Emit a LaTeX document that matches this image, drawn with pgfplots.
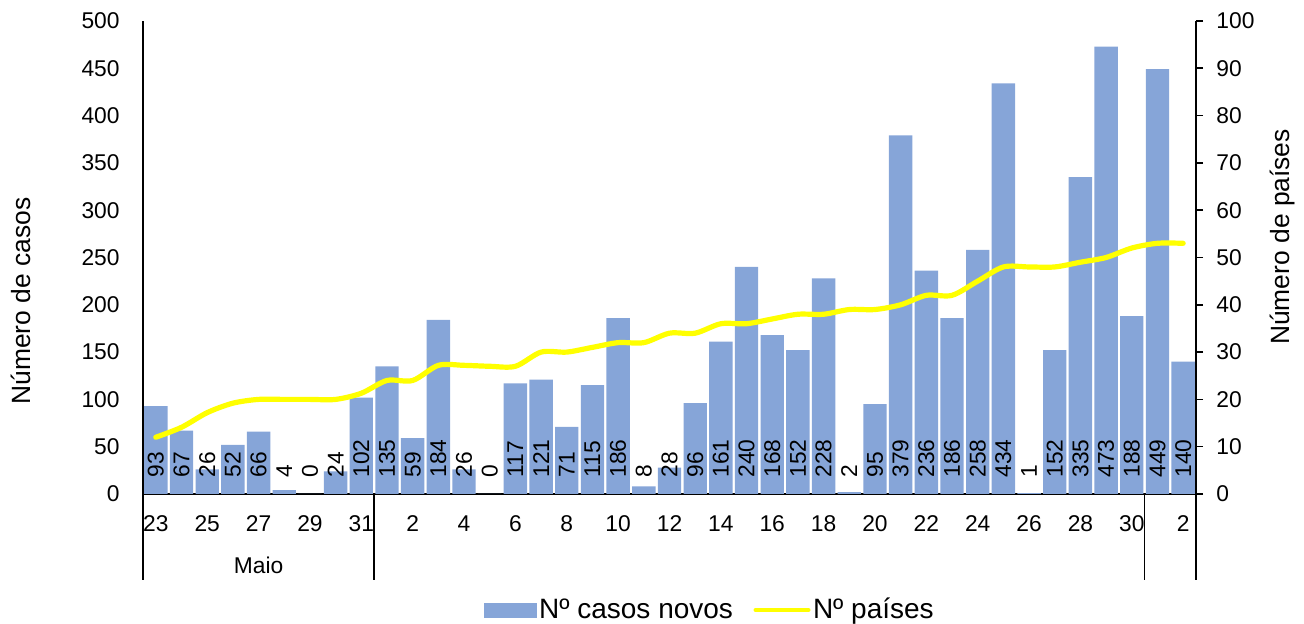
\documentclass[border=0pt]{standalone}
\usepackage{fontspec}
\setmainfont{Liberation Sans}
\usepackage{pgfplots}
\usepackage{pgfplotstable}
\pgfplotsset{compat=1.18}
\definecolor{barblue}{RGB}{134,165,216}
\definecolor{lineyel}{RGB}{255,255,0}
\newcommand\tickf{\fontsize{11.4}{13.7}\selectfont}
\newcommand\titf{\fontsize{13.2}{15.8}\selectfont}
\newcommand\legf{\fontsize{14}{16.8}\selectfont}

\pgfplotstableread{
idx casos zero paises
0 93 0 12
1 67 0 14.1
2 26 0 17.2
3 52 0 19.2
4 66 0 20
5 4 0 20
6 0 0 20
7 24 0 20
8 102 0 21.3
9 135 0 24
10 59 0 24
11 184 0 27.2
12 26 0 27.2
13 0 0 27
14 117 0 27
15 121 0 30
16 71 0 30
17 115 0 31
18 186 0 32
19 8 0 32
20 28 0 34
21 96 0 34
22 161 0 36
23 240 0 36
24 168 0 37
25 152 0 38
26 228 0 38
27 2 0 39
28 95 0 39
29 379 0 40
30 236 0 42
31 186 0 42
32 258 0 45
33 434 0 48
34 1 0 48
35 152 0 48
36 335 0 49
37 473 0 50
38 188 0 52
39 449 0 53
40 140 0 53
}\data

\begin{document}
\begin{tikzpicture}
\path[use as bounding box] (-71.5pt,-65pt) rectangle (580.5pt,247pt);
\begin{axis}[
  at={(0,0)}, anchor=south west,
  scale only axis, width=526.5pt, height=236.5pt,
  xmin=-0.5, xmax=40.5, ymin=0, ymax=500,
  axis x line*=bottom, axis y line*=left,
  axis line style={line width=0.8pt, black},
  ytick={0,50,...,500},
  xtick={0,2,...,40},
  xticklabels={23,25,27,29,31,2,4,6,8,10,12,14,16,18,20,22,24,26,28,30,2},
  major tick length=0pt,
  tick style={draw=none},
  yticklabel style={anchor=east, inner sep=0pt, xshift=-11.5pt, font=\tickf},
  xticklabel style={anchor=north, inner sep=0pt, yshift=-10.5pt, font=\tickf},
  /pgf/number format/assume math mode=true,
  ylabel={Número de casos},
  ylabel style={at={(axis description cs:-0.1159,0.408)}, anchor=center, font=\titf},
  clip=false,
]
\addplot[ybar, bar width=0.91, fill=barblue, draw=none] table[x=idx,y=casos]{\data};
\addplot[draw=none, mark=none, nodes near coords, point meta=explicit,
  every node near coord/.style={yshift=8pt, rotate=90, anchor=west, inner sep=0pt, font=\tickf, black}]
  table[x=idx,y=zero,meta=casos]{\data};
\draw[line width=0.8pt] (axis cs:-0.5,0) -- ++(0pt,-43pt);
\draw[line width=0.8pt] (axis cs:8.5,0) -- ++(0pt,-43pt);
\draw[line width=0.8pt] (axis cs:38.5,0) -- ++(0pt,-43pt);
\draw[line width=0.8pt] (axis cs:40.5,0) -- ++(0pt,-43pt);
\node[font=\tickf, inner sep=0pt] at ([yshift=-35.5pt]axis cs:4,0) {Maio};
\end{axis}
\begin{axis}[
  at={(0,0)}, anchor=south west,
  scale only axis, width=526.5pt, height=236.5pt,
  xmin=-0.5, xmax=40.5, ymin=0, ymax=100,
  axis x line=none, axis y line*=right,
  axis line style={line width=0.8pt, black},
  ytick={0,10,...,100},
  tick align=outside, major tick length=3.5pt,
  tick style={black, line width=0.8pt},
  yticklabel style={anchor=west, inner sep=0pt, xshift=6.5pt, font=\tickf},
  /pgf/number format/assume math mode=true,
  ylabel={Número de países},
  ylabel style={at={(axis description cs:1.0817,0.5433)}, anchor=center, font=\titf},
  legend style={at={(axis description cs:0.5385,-0.2452)}, anchor=center,
    draw=none, fill=none, legend columns=2, font=\legf,
    nodes={inner sep=1.25pt},
    /tikz/every even column/.append style={column sep=9pt}},
  legend cell align=left,
  clip=false,
]
\addlegendimage{legend image code/.code={\fill[barblue] (0pt,-3.5pt) rectangle (26pt,3.5pt);}}
\addlegendentry{Nº casos novos}
\addplot[lineyel, line width=2.6pt, smooth, line cap=round,
  legend image code/.code={\draw[lineyel, line width=2pt] (0pt,0pt) -- (26.5pt,0pt);}]
  table[x=idx,y=paises]{\data};
\addlegendentry{Nº países}
\end{axis}
\end{tikzpicture}
\end{document}
